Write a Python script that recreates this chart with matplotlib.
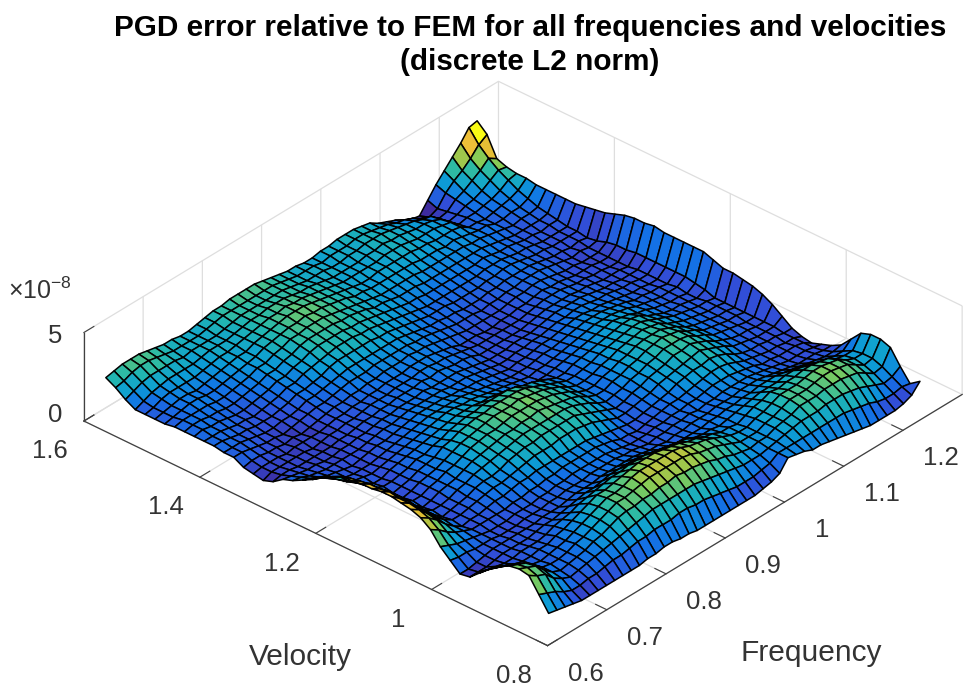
import numpy as np
import matplotlib
matplotlib.use("Agg")
from matplotlib import pyplot as plt
from matplotlib.colors import LinearSegmentedColormap, Normalize

plt.rcParams['font.family'] = ['Liberation Sans', 'DejaVu Sans']
plt.rcParams['mathtext.default'] = 'regular'

freq_min, freq_max = 0.637, 1.264
vel_min, vel_max = 0.836, 1.6

freq_ticks = [0.6, 0.7, 0.8, 0.9, 1.0, 1.1, 1.2]
freq_labels = ['0.6', '0.7', '0.8', '0.9', '1', '1.1', '1.2']
vel_ticks = [0.8, 1.0, 1.2, 1.4, 1.6]
vel_labels = ['0.8', '1', '1.2', '1.4', '1.6']
err_ticks = [0, 5]

# error in units of 1e-9, one row per frequency, one column per velocity
err = [
 [5,13,21,22,21,18,14,9,4,3, 8,13,20,24,26,27,28,28,27,27, 26,26,23,20,16,13,10,8,4,2, 3,4,7,7,8,8,8,8,8,7, 7,7,7,10,14,17],
 [4,11,18,20,19,16,12,8,4,3, 7,11,17,21,23,24,24,25,24,24, 23,22,20,17,14,11,9,7,5,4, 4,5,7,7,8,8,9,9,9,8, 8,8,9,12,15,18],
 [3,9,16,18,17,14,10,7,4,4, 7,9,13,17,18,19,20,20,20,19, 18,17,15,13,11,9,7,6,5,4, 4,5,6,7,7,8,8,9,9,9, 9,10,11,14,17,19],
 [2,6,11,13,13,11,8,6,5,5, 6,8,10,12,13,14,14,14,14,13, 13,12,11,9,8,7,6,5,4,4, 4,4,5,6,6,7,8,8,9,10, 10,11,12,15,18,19],
 [1,4,8,9,9,8,7,6,6,6, 6,7,8,8,9,9,9,9,9,9, 9,8,8,7,6,6,5,5,4,4, 3,4,4,5,6,6,7,8,9,10, 10,11,13,15,18,19],
 [1,4,6,7,8,7,7,7,6,6, 6,6,6,5,6,5,6,5,6,5, 5,6,5,6,5,5,5,4,4,4, 4,3,4,4,5,6,6,7,8,9, 9,11,13,15,17,18],
 [1,5,7,8,8,8,8,7,6,6, 5,5,6,6,6,6,6,6,6,6, 6,6,5,5,5,4,5,4,4,3, 4,4,3,4,5,5,6,7,8,9, 10,11,13,15,16,17],
 [1,5,8,9,9,9,8,7,6,6, 5,5,6,6,7,7,7,8,8,8, 7,7,7,6,5,5,5,5,4,4, 4,3,4,5,5,6,7,8,9,10, 11,12,13,14,15,16],
 [1,6,9,10,11,10,10,8,7,6, 5,5,6,7,8,8,9,9,9,9, 9,8,8,7,6,6,5,5,5,5, 4,4,5,5,6,7,8,9,10,11, 12,13,14,15,15,16],
 [1,7,10,12,12,12,11,10,8,6, 6,6,6,8,9,10,10,10,11,10, 10,10,9,8,7,7,6,6,5,5, 5,5,6,6,7,8,9,10,11,12, 13,14,15,15,15,15],
 [1,7,11,13,14,14,13,11,8,7, 6,6,7,8,10,11,12,12,12,12, 11,10,10,9,8,7,7,6,6,6, 6,6,7,8,9,10,11,12,13,13, 14,14,15,15,15,15],
 [1,8,12,15,16,16,15,12,9,7, 6,6,7,9,10,11,13,14,14,14, 14,12,11,10,9,8,8,7,7,6, 6,7,7,8,9,10,11,12,13,14, 14,15,15,15,16,16],
 [2,9,13,17,18,18,17,14,10,7, 7,7,8,10,11,12,14,15,16,16, 15,13,12,11,10,9,8,8,7,7, 7,7,8,9,10,12,13,14,15,16, 16,16,16,16,17,17],
 [2,9,14,18,20,20,19,15,11,8, 7,7,8,10,12,14,15,16,17,17, 17,15,13,12,11,10,9,8,8,8, 7,8,9,10,11,13,14,15,16,17, 17,17,17,17,18,18],
 [3,10,15,18,20,20,19,16,12,9, 8,8,9,11,13,15,16,17,18,18, 18,16,14,13,12,11,10,9,8,8, 8,8,10,11,13,14,16,17,18,18, 18,18,18,18,18,18],
 [3,10,16,19,21,21,20,17,12,9, 8,8,9,11,14,16,17,18,18,19, 19,17,15,14,12,11,10,9,9,8, 8,9,10,12,14,15,17,18,18,19, 19,19,18,18,18,19],
 [2,10,16,19,22,23,21,18,13,9, 8,9,10,11,14,16,18,18,19,20, 19,17,15,14,12,11,10,9,9,9, 9,9,10,12,14,16,17,18,19,19, 20,19,19,18,18,19],
 [2,11,16,20,23,24,22,18,14,10, 9,9,10,11,14,17,18,19,20,20, 20,18,15,13,12,11,10,10,9,9, 9,10,11,12,14,16,17,18,19,20, 20,20,19,18,18,19],
 [1,11,16,20,23,24,23,19,14,10, 9,9,10,11,15,17,18,19,20,20, 20,18,14,13,12,10,10,9,10,9, 9,10,11,12,14,16,17,18,19,19, 20,19,19,18,18,19],
 [1,10,16,21,23,24,23,19,14,10, 9,9,10,11,15,17,18,20,20,21, 20,18,14,12,11,10,9,9,9,10, 10,10,11,12,14,15,16,17,18,19, 19,19,18,18,18,18],
 [1,10,16,20,23,24,23,19,14,10, 9,9,10,11,15,17,18,19,20,20, 20,18,13,11,10,9,9,9,10,10, 10,11,11,12,13,15,16,17,17,18, 18,18,17,17,17,17],
 [1,9,15,20,23,24,22,18,13,10, 8,8,9,10,14,17,18,18,19,19, 19,17,11,10,9,9,9,9,9,9, 10,10,11,12,13,14,15,16,16,17, 17,17,17,16,16,16],
 [1,8,14,19,22,23,21,17,12,9, 8,7,8,9,13,15,17,17,18,18, 17,15,10,9,8,8,8,8,8,9, 9,10,10,11,12,13,14,15,15,16, 16,16,16,15,15,15],
 [1,7,13,18,20,21,20,16,11,8, 7,6,6,8,11,13,15,16,16,16, 15,14,9,8,7,7,7,7,8,8, 8,9,10,10,11,12,13,13,14,14, 15,15,15,15,15,15],
 [1,6,12,16,19,20,18,15,10,8, 6,6,6,7,9,11,13,14,14,14, 13,12,7,7,6,6,6,6,7,7, 7,8,9,9,10,11,12,13,13,14, 14,14,14,15,15,14],
 [1,6,11,15,18,19,17,14,9,7, 7,6,5,6,7,9,10,11,11,11, 11,10,7,6,6,5,5,5,5,6, 5,7,8,8,9,10,11,12,12,13, 13,14,14,14,14,14],
 [2,6,10,13,16,17,15,12,9,8, 7,7,6,6,7,7,8,9,9,9, 9,8,7,7,6,6,5,5,5,5, 5,6,7,8,8,9,10,11,12,13, 13,14,14,14,15,15],
 [3,7,10,12,14,15,14,11,9,8, 8,7,7,7,8,8,9,9,9,9, 9,8,8,7,7,6,6,5,5,5, 5,5,6,7,8,8,10,11,12,13, 14,14,14,15,15,15],
 [5,8,10,11,12,13,12,11,9,9, 8,8,8,8,9,10,10,11,11,10, 10,10,9,8,8,7,6,6,5,5, 4,5,6,7,8,8,9,11,12,13, 14,14,15,15,15,16],
 [11,11,11,12,12,12,12,10,10,9, 9,8,9,9,10,11,12,12,12,12, 11,11,10,9,8,8,7,6,5,5, 4,5,6,6,7,8,9,10,12,13, 14,15,15,16,16,16],
 [10,11,12,12,12,12,11,11,10,9, 8,9,9,10,12,13,13,14,14,13, 13,12,11,10,9,8,7,6,5,5, 5,5,5,6,7,8,9,10,11,13, 14,15,16,16,16,16],
 [9,11,13,14,14,14,13,12,11,10, 9,9,10,12,13,14,15,15,15,15, 14,13,12,11,10,9,8,7,6,5, 5,5,6,6,7,8,9,10,11,12, 14,15,15,16,15,15],
 [7,11,14,15,15,15,15,13,11,10, 9,10,11,13,14,15,16,17,17,16, 15,14,13,12,11,10,9,8,7,6, 6,6,6,7,7,8,9,10,11,12, 13,14,15,15,14,14],
 [7,11,15,16,17,17,16,14,12,10, 10,11,12,14,15,17,18,18,18,17, 16,15,14,13,12,11,9,9,8,7, 6,7,7,7,8,8,9,10,11,12, 13,13,14,14,13,11],
 [6,11,15,18,19,19,18,15,12,11, 10,11,13,14,16,17,18,19,18,18, 17,16,15,13,12,11,10,9,8,8, 7,7,7,8,8,9,9,10,11,11, 12,13,13,13,11,9],
 [5,11,15,18,19,19,17,15,13,11, 10,11,13,15,17,18,18,18,18,17, 17,16,14,13,12,10,10,9,8,8, 8,8,8,8,9,9,10,10,11,12, 12,13,13,12,10,7],
 [4,11,16,18,19,19,18,15,13,11, 10,10,12,14,15,16,17,17,16,16, 15,15,13,12,11,10,9,9,8,8, 7,8,8,8,9,9,9,10,10,11, 12,12,12,10,8,4],
 [3,11,16,19,20,20,18,16,13,10, 9,9,10,12,13,14,14,14,14,13, 13,12,11,11,10,9,8,8,7,7, 7,7,8,8,8,8,8,9,10,10, 11,11,10,9,5,2],
 [2,10,16,19,21,21,19,16,12,9, 8,8,8,9,11,11,12,12,11,11, 11,10,10,9,9,8,8,7,7,6, 6,6,7,7,7,7,8,8,9,9, 8,7,6,5,3,1],
 [1,9,15,19,21,21,19,15,11,8, 7,6,7,7,8,9,9,9,9,9, 9,8,8,8,7,7,7,6,6,6, 5,5,6,6,6,7,7,7,8,9, 8,8,7,6,5,7],
 [1,8,14,18,20,20,18,14,10,7, 6,6,6,6,7,7,8,8,8,8, 8,7,7,7,7,6,6,6,5,5, 5,5,5,5,6,6,6,6,7,7, 7,8,9,10,11,13],
 [1,6,12,17,19,19,17,12,9,6, 5,5,5,6,6,6,7,7,7,7, 7,7,6,6,6,6,6,5,5,5, 5,4,4,5,5,5,6,6,6,7, 8,9,10,12,15,18],
 [1,5,10,14,16,16,14,11,8,6, 5,5,5,5,5,6,6,6,6,6, 6,6,6,6,6,5,5,5,5,4, 4,4,5,4,5,5,5,6,7,8, 9,10,12,15,18,23],
 [2,5,8,11,13,14,13,10,7,6, 5,5,4,5,5,5,5,6,6,6, 6,5,5,6,5,5,5,5,4,4, 4,4,4,5,5,5,6,6,7,8, 10,12,15,18,22,28],
 [4,6,9,12,14,14,13,10,7,5, 4,4,4,4,5,5,5,5,5,5, 5,7,8,9,9,9,9,9,9,8, 8,7,5,4,5,5,6,7,8,10, 12,15,18,22,27,34],
 [9,5,12,20,22,22,20,14,8,5, 3,1,2,4,8,12,15,17,18,19, 19,21,23,23,23,23,23,24,23,23, 22,20,18,17,16,15,15,15,15,15, 16,16,17,19,30,35],
]

parula_colors = [(0.24, 0.17, 0.62), (0.19, 0.31, 0.85), (0.07, 0.45, 0.90),
                 (0.05, 0.62, 0.83), (0.14, 0.72, 0.68), (0.5044, 0.7993, 0.3480),
                 (0.8634, 0.7406, 0.1963), (0.9892, 0.7536, 0.2385), (0.9769, 0.9839, 0.0805)]
parula = LinearSegmentedColormap.from_list('parula', parula_colors)

Z = np.array(err) / 10
freq = np.linspace(freq_min, freq_max, Z.shape[0])
vel = np.linspace(vel_min, vel_max, Z.shape[1])
V, F = np.meshgrid(vel, freq)

fig = plt.figure(figsize=(9.76, 6.88), dpi=100)
ax = fig.add_axes([-29 / 976, -227.5 / 688, 1075 / 976, 1075 / 688], projection='3d')
ax.patch.set_alpha(0)
ax.set_proj_type('ortho')
ax.view_init(elev=32.8, azim=-138.2)
ax.set_box_aspect((620, 620, 105), zoom=0.8)

# a face takes the colour of its corner on the higher velocity side
colors = parula(Normalize(0.1, 3.4)(Z))
colors[:, :-1] = colors[:, 1:]
ax.plot_surface(F, V, Z, facecolors=colors, shade=False, rstride=1, cstride=1,
                edgecolor='black', linewidth=1.1, antialiased=True)

ax.set_xlim(0.6, 1.3)
ax.set_ylim(0.8, 1.6)
ax.set_zlim(0, 5)
ax.set_xticks(freq_ticks, freq_labels)
ax.set_yticks(vel_ticks, vel_labels)
ax.set_zticks(err_ticks)

for axis in (ax.xaxis, ax.yaxis, ax.zaxis):
    axis.set_pane_color((1, 1, 1, 0))
    axis.pane.set_edgecolor((0.87, 0.87, 0.87))
    axis.line.set_color((0.25, 0.25, 0.25))
    axis.line.set_linewidth(0.9)
    axis._axinfo['grid']['color'] = (0.87, 0.87, 0.87)
    axis._axinfo['grid']['linewidth'] = 0.9
    axis._axinfo['tick']['inward_factor'] = 0.0
    axis._axinfo['tick']['outward_factor'] = 0.3
for name, pad in (('x', 25), ('y', 25), ('z', 5)):
    ax.tick_params(axis=name, labelsize=18.5, labelcolor=(0.2, 0.2, 0.2), color=(0.25, 0.25, 0.25), width=0.9, pad=pad)
for label in ax.get_xticklabels() + ax.get_yticklabels():
    label.set_va('center_baseline')
z_labels = ax.get_zticklabels()
z_labels[0].set_va('baseline')
z_labels[1].set_va('center_baseline')

fig.text(300 / 976, 1 - 657 / 688, 'Velocity', fontsize=21.5, color=(0.2, 0.2, 0.2), ha='center', va='center')
fig.text(811 / 976, 1 - 653 / 688, 'Frequency', fontsize=21.5, color=(0.2, 0.2, 0.2), ha='center', va='center')
fig.text(8 / 976, 1 - 291 / 688, r'$\times 10^{-8}$', fontsize=18, color=(0.2, 0.2, 0.2), ha='left', va='center')
fig.text(530 / 976, 1 - 45 / 688, 'PGD error relative to FEM for all frequencies and velocities\n(discrete L2 norm)',
         fontsize=21.4, fontweight='bold', ha='center', va='center', color='black', linespacing=1.27)

fig.savefig('out.png', dpi=100)
